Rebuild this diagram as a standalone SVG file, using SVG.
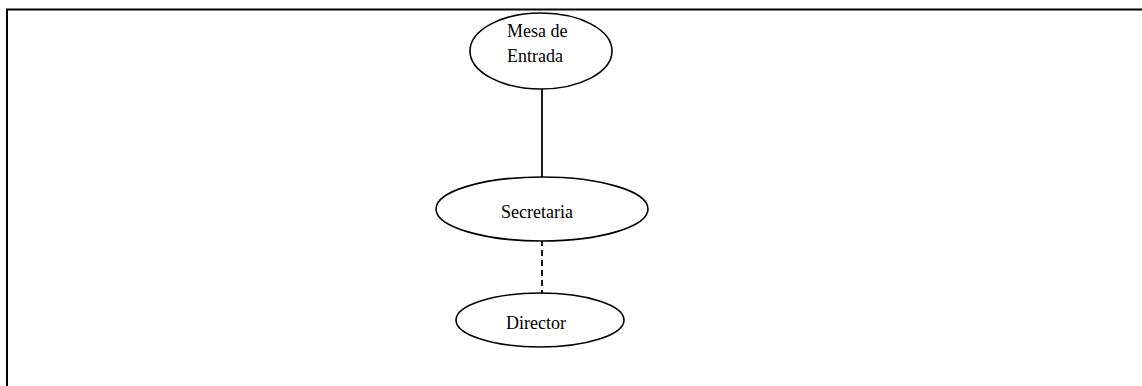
<svg xmlns="http://www.w3.org/2000/svg" width="1142" height="386" viewBox="0 0 1142 386">
<style>
.n{fill:#fff;stroke:#000;stroke-width:1.6}
.t{font-family:"Liberation Serif",serif;font-size:18px;fill:#000}
.c{stroke:#000;stroke-width:1.8;fill:none}
</style>
<rect width="1142" height="386" fill="#fff"/>
<g id="frame">
<path d="M7 386 V9.5 H1142" fill="none" stroke="#000" stroke-width="2"/>
</g>
<g id="connectors">
<line class="c" x1="542" y1="88" x2="542" y2="177"/>
<line class="c" x1="542" y1="240" x2="542" y2="293" stroke-dasharray="6,4"/>
</g>
<g id="mesa">
<ellipse class="n" cx="541" cy="51" rx="71" ry="38"/>
<text class="t" x="507" y="37">Mesa de</text>
<text class="t" x="507" y="62">Entrada</text>
</g>
<g id="secretaria">
<ellipse class="n" cx="542" cy="209" rx="106" ry="32"/>
<text class="t" x="537" y="218" text-anchor="middle">Secretaria</text>
</g>
<g id="director">
<ellipse class="n" cx="540" cy="320" rx="84" ry="27"/>
<text class="t" x="536" y="329" text-anchor="middle">Director</text>
</g>
</svg>
